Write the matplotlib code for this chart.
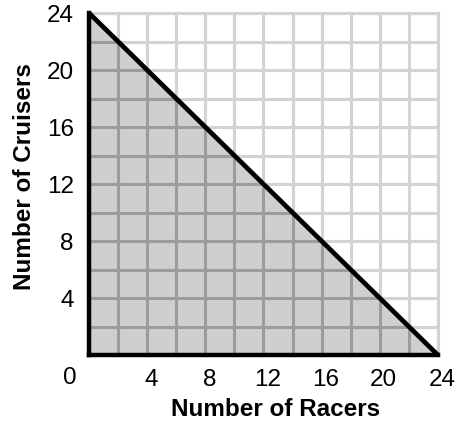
import matplotlib.pyplot as plt
import numpy as np
import matplotlib.transforms as mtransforms
from matplotlib.patches import Polygon

plt.rcParams['font.family'] = ['Liberation Sans', 'DejaVu Sans']

# boundary line: racers + cruisers = 24
racers = [0, 24]
cruisers = [24, 0]
tickValues = [4, 8, 12, 16, 20, 24]
gridValues = list(range(0, 25, 2))

lightGrid = '#d3d3d3'
darkGrid = '#9c9c9c'
shade = '#cfcfcf'
fs = 17.5

fig = plt.figure(figsize=(4.67, 4.24), dpi=100)
ax = fig.add_axes([0.1906, 0.1627, 0.747, 0.8066])
ax.set_xlim(0, 24)
ax.set_ylim(0, 24)

# light grid over the whole area
for g in gridValues:
    ax.axvline(g, color=lightGrid, lw=2.2, zorder=1)
    ax.axhline(g, color=lightGrid, lw=2.2, zorder=1)

# shaded region under the line
poly = Polygon([(racers[0], 0), (racers[0], cruisers[0]), (racers[1], cruisers[1])],
               closed=True, facecolor=shade, edgecolor='none', zorder=2)
ax.add_patch(poly)

# darker grid inside the shaded region
for g in gridValues:
    l1, = ax.plot([g, g], [0, 24], color=darkGrid, lw=2.2, zorder=3)
    l2, = ax.plot([0, 24], [g, g], color=darkGrid, lw=2.2, zorder=3)
    l1.set_clip_path(poly)
    l2.set_clip_path(poly)

ax.plot(racers, cruisers, color='black', lw=3.4, zorder=5, clip_on=False,
        solid_capstyle='butt')

ax.set_xticks(tickValues)
ax.set_yticks(tickValues)
ax.tick_params(axis='x', length=0, labelsize=fs, pad=10)
ax.tick_params(axis='y', length=0, labelsize=fs, pad=11)
# nudge x tick labels slightly to the right
shift = mtransforms.ScaledTranslation(4 / 100, 0, fig.dpi_scale_trans)
for lbl in ax.get_xticklabels():
    lbl.set_transform(lbl.get_transform() + shift)
ax.annotate('0', xy=(0, 0), xycoords='data', xytext=(-19, -23),
            textcoords='offset pixels', ha='center', va='center', fontsize=fs)

for side in ['left', 'bottom']:
    ax.spines[side].set_linewidth(3.2)
    ax.spines[side].set_color('black')
    ax.spines[side].set_zorder(6)
for side in ['top', 'right']:
    ax.spines[side].set_linewidth(2.2)
    ax.spines[side].set_color(lightGrid)

ax.set_xlabel('Number of Racers', fontsize=fs, fontweight='bold')
ax.set_ylabel('Number of Cruisers', fontsize=fs, fontweight='bold')
ax.xaxis.set_label_coords(0.535, -0.125)
ax.yaxis.set_label_coords(-0.152, 0.523)

fig.savefig('out.png', dpi=100)
